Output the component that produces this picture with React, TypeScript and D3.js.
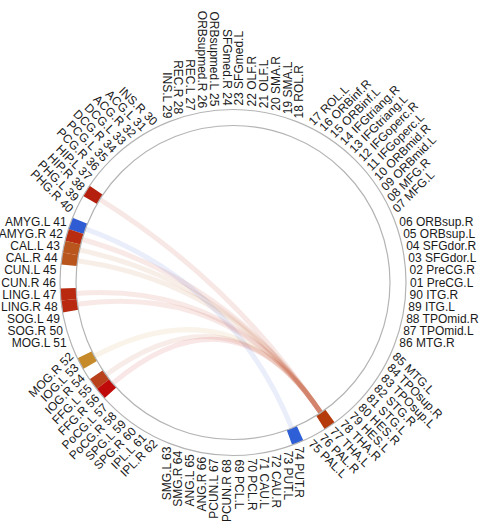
import * as d3 from "d3";

// AAL-90 region names, node i sits at index i-1
const regions = [
  "PreCG.L", "PreCG.R", "SFGdor.L", "SFGdor.R", "ORBsup.L", "ORBsup.R", "MFG.L", "MFG.R",
  "ORBmid.L", "ORBmid.R", "IFGoperc.L", "IFGoperc.R", "IFGtriang.L", "IFGtriang.R", "ORBinf.L", "ORBinf.R",
  "ROL.L", "ROL.R", "SMA.L", "SMA.R", "OLF.L", "OLF.R", "SFGmed.L", "SFGmed.R",
  "ORBsupmed.L", "ORBsupmed.R", "REC.L", "REC.R", "INS.L", "INS.R", "ACG.L", "ACG.R",
  "DCG.L", "DCG.R", "PCG.L", "PCG.R", "HIP.L", "HIP.R", "PHG.L", "PHG.R",
  "AMYG.L", "AMYG.R", "CAL.L", "CAL.R", "CUN.L", "CUN.R", "LING.L", "LING.R",
  "SOG.L", "SOG.R", "MOG.L", "MOG.R", "IOG.L", "IOG.R", "FFG.L", "FFG.R",
  "PoCG.L", "PoCG.R", "SPG.L", "SPG.R", "IPL.L", "IPL.R", "SMG.L", "SMG.R",
  "ANG.L", "ANG.R", "PCUN.L", "PCUN.R", "PCL.L", "PCL.R", "CAU.L", "CAU.R",
  "PUT.L", "PUT.R", "PAL.L", "PAL.R", "THA.L", "THA.R", "HES.L", "HES.R",
  "STG.L", "STG.R", "TPOsup.L", "TPOsup.R", "MTG.L", "MTG.R", "TPOmid.L", "TPOmid.R",
  "ITG.L", "ITG.R",
];

// highlighted nodes in the track and their colours
const markedNodes = [38, 41, 42, 43, 44, 47, 48, 53, 55, 56, 74, 77];
const markedColors = [
  "#b5200e", "#2f5bd3", "#b82c10", "#b9561e", "#b9561e", "#b8290f",
  "#b8290f", "#c68a2a", "#b8401a", "#c00a0a", "#2e5fd6", "#b53a0c",
];

// links between nodes
const linkFrom = [38, 41, 42, 43, 44, 47, 48, 53, 55, 56];
const linkTo = [77, 74, 77, 77, 77, 77, 77, 77, 77, 77];

const W = 479;
const H = 528;
const CX = 233;
const CY = 282.5;
const R_IN = 157;
const R_OUT = 173;
const R_LABEL = 177;
const FONT = "'Liberation Sans', Arial, Helvetica, sans-serif";

// node -> angle in degrees, counter-clockwise from 3 o'clock
const angle = d3.scaleLinear().domain([1, 91]).range([0, 360]);
const rad = (deg: number) => (deg * Math.PI) / 180;
const pt = (deg: number, r: number): [number, number] => [
  CX + r * Math.cos(rad(deg)),
  CY - r * Math.sin(rad(deg)),
];

const colorOf = new Map(markedNodes.map((n, i) => [n, markedColors[i]]));
const step = 360 / regions.length;

export default function App() {
  const blockArc = d3.arc<{ a: number }>()
    .innerRadius(R_IN)
    .outerRadius(R_OUT)
    .startAngle((d) => rad(90 - d.a - step / 2))
    .endAngle((d) => rad(90 - d.a + step / 2));

  const linkPath = (s: number, t: number) => {
    const p = d3.path();
    const [x0, y0] = pt(angle(s), R_IN);
    const [x1, y1] = pt(angle(t), R_IN);
    p.moveTo(x0, y0);
    p.quadraticCurveTo(CX, CY, x1, y1);
    return p.toString();
  };

  return (
    <svg
      width={W}
      height={H}
      style={{ position: "absolute", left: 0, top: 0, background: "#fff" }}
    >
      {/* links */}
      <g fill="none" strokeWidth={5}>
        {linkFrom.map((s, i) => (
          <path
            key={i}
            d={linkPath(s, linkTo[i])}
            stroke={colorOf.get(s)}
            strokeOpacity={0.1}
          />
        ))}
      </g>

      {/* track blocks */}
      <g transform={`translate(${CX},${CY})`}>
        {markedNodes.map((n, i) => (
          <path key={n} d={blockArc({ a: angle(n) }) as string} fill={markedColors[i]} />
        ))}
      </g>

      {/* track borders */}
      <circle cx={CX} cy={CY} r={R_IN} fill="none" stroke="#b4b4b4" strokeWidth={1.2} />
      <circle cx={CX} cy={CY} r={R_OUT} fill="none" stroke="#b4b4b4" strokeWidth={1.2} />

      {/* labels */}
      <g fontFamily={FONT} fontSize={12} fill="#1a1a1a">
        {regions.map((name, i) => {
          const n = i + 1;
          const a = angle(n);
          const q = Math.round(a / 45) * 45;
          const right = Math.cos(rad(a)) > 0;
          const [x, y] = pt(a, R_LABEL);
          const num = String(n).padStart(2, "0");
          return (
            <text
              key={n}
              transform={`translate(${x},${y}) rotate(${right ? -q : 180 - q})`}
              textAnchor={right ? "start" : "end"}
              dominantBaseline="central"
            >
              {right ? `${num} ${name}` : `${name} ${num}`}
            </text>
          );
        })}
      </g>
    </svg>
  );
}
